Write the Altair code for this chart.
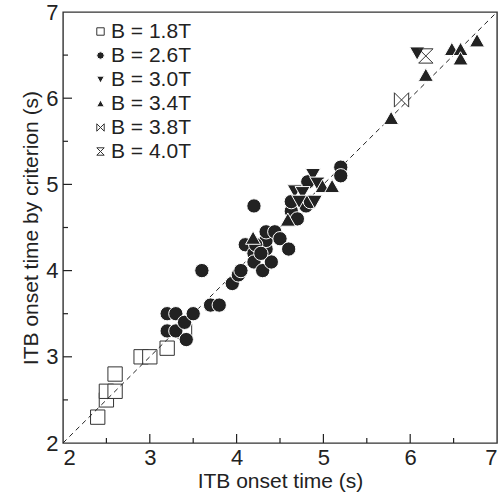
import altair as alt
import pandas as pd

groups = ["B = 1.8T", "B = 2.6T", "B = 3.0T", "B = 3.4T", "B = 3.8T", "B = 4.0T"]

x18 = [2.4, 2.5, 2.5, 2.6, 2.6, 2.9, 3.0, 3.2, 3.4]
y18 = [2.3, 2.5, 2.6, 2.6, 2.8, 3.0, 3.0, 3.1, 3.3]

x26 = [3.2, 3.3, 3.2, 3.3, 3.4, 3.42, 3.5, 3.6, 3.7, 3.8, 3.95, 4.02, 4.05, 4.2,
       4.1, 4.2, 4.2, 4.3, 4.4, 4.34, 4.34, 4.34, 4.44, 4.5, 4.6, 4.63, 4.7,
       4.63, 4.8, 4.85, 4.82, 5.2, 5.2, 4.22, 4.28]
y26 = [3.3, 3.3, 3.5, 3.5, 3.4, 3.2, 3.5, 4.0, 3.6, 3.6, 3.85, 3.95, 4.0, 4.75,
       4.3, 4.2, 4.1, 4.0, 4.1, 4.25, 4.35, 4.45, 4.45, 4.37, 4.25, 4.69, 4.6,
       4.8, 4.75, 4.8, 5.03, 5.2, 5.1, 4.3, 4.2]

x30 = [4.67, 4.76, 4.72, 4.9, 4.88, 4.93, 6.08]
y30 = [4.92, 4.9, 4.8, 4.8, 5.11, 5.01, 6.52]

x34 = [4.19, 4.59, 4.99, 5.1, 5.78, 6.18, 6.48, 6.58, 6.58, 6.77]
y34 = [4.38, 4.59, 4.98, 4.98, 5.77, 6.27, 6.57, 6.57, 6.46, 6.67]

x38 = [5.9]
y38 = [5.98]

x40 = [6.18]
y40 = [6.49]

diag = [2, 7]
major_ticks = [3, 4, 5, 6]
minor_ticks = [2.5, 3.5, 4.5, 5.5, 6.5]
axis_vals = [2, 3, 4, 5, 6, 7]

rows = []
for g, xs, ys in zip(groups, [x18, x26, x30, x34, x38, x40], [y18, y26, y30, y34, y38, y40]):
    rows += [{"B": g, "x": a, "y": b} for a, b in zip(xs, ys)]
df = pd.DataFrame(rows)

W, H = 434, 431
INK = "#222222"

xs = alt.Scale(domain=[2, 7], nice=False, zero=False)
ys = alt.Scale(domain=[2, 7], nice=False, zero=False)

shape_range = ["square", "circle",
               "M-1.05,-0.9L1.05,-0.9L0,0.95Z",
               "M0,-0.95L1.05,0.9L-1.05,0.9Z",
               "M-1,-1L-1,1L1,-1L1,1Z", "M-1,-1L1,-1L-1,1L1,1Z"]
fill_range = ["white", INK, INK, INK, "transparent", "transparent"]
stroke_range = ["#333333", "white", "white", "white", "#333333", "#333333"]

leg = alt.Legend(title=None, orient="none", legendX=27, legendY=9,
                 symbolSize=55, labelFontSize=21, labelFont="Liberation Sans",
                 labelColor=INK, labelOffset=0, rowPadding=2, padding=0,
                 symbolStrokeWidth=1)

def points(data):
    return alt.Chart(data).mark_point(opacity=1, size=205, strokeWidth=1).encode(
        x=alt.X("x:Q", scale=xs, axis=alt.Axis(values=axis_vals, format="d", title="ITB onset time (s)",
                                               labelPadding=4, titlePadding=2)),
        y=alt.Y("y:Q", scale=ys, axis=alt.Axis(values=axis_vals, format="d", title="ITB onset time by criterion (s)",
                                               labelPadding=5, titlePadding=4)),
        shape=alt.Shape("B:N", scale=alt.Scale(domain=groups, range=shape_range), legend=leg),
        fill=alt.Fill("B:N", scale=alt.Scale(domain=groups, range=fill_range), legend=leg),
        stroke=alt.Stroke("B:N", scale=alt.Scale(domain=groups, range=stroke_range), legend=leg),
    )

sq = points(df[df["B"] == groups[0]])
others = points(df[df["B"] != groups[0]])

line = alt.Chart(pd.DataFrame({"v": diag})).mark_line(
    color=INK, strokeWidth=1, strokeDash=[5, 4]).encode(
    x=alt.X("v:Q", scale=xs), y=alt.Y("v:Q", scale=ys))

def xticks(vals, length):
    return alt.Chart(pd.DataFrame({"v": vals})).mark_rule(color=INK, strokeWidth=1.2).encode(
        x=alt.X("v:Q", scale=xs), y=alt.value(H), y2=alt.value(H - length))

def yticks(vals, length):
    return alt.Chart(pd.DataFrame({"v": vals})).mark_rule(color=INK, strokeWidth=1.2).encode(
        y=alt.Y("v:Q", scale=ys), x=alt.value(0), x2=alt.value(length))

chart = alt.layer(
    sq, line, others,
    xticks(major_ticks, 9), xticks(minor_ticks, 5),
    yticks(major_ticks, 9), yticks(minor_ticks, 5),
).properties(
    width=W, height=H,
    padding={"left": 63, "top": 12, "right": 3, "bottom": 58},
    autosize=alt.AutoSizeParams(type="none"),
).configure_view(
    stroke="#333333", strokeWidth=1.4
).configure_axis(
    domain=False, ticks=False, grid=False,
    labelFont="Liberation Sans", titleFont="Liberation Sans",
    labelFontSize=22, titleFontSize=21, labelColor=INK, titleColor=INK,
    titleFontWeight="normal",
)

chart.save("out.html", embed_options={"renderer": "svg", "actions": False})
